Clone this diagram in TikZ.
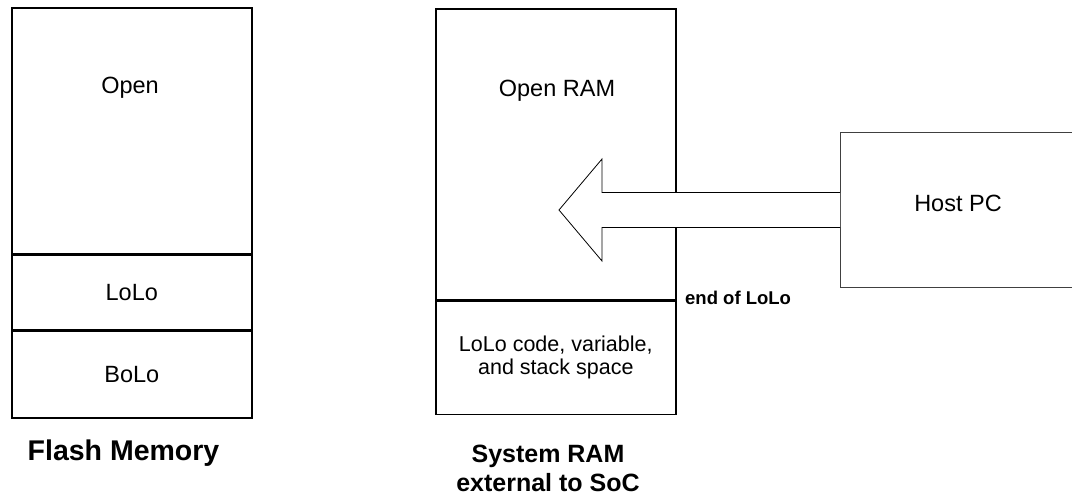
\documentclass[tikz,border=0pt]{standalone}
\usepackage{fontspec}
\setmainfont{Liberation Sans}
\usetikzlibrary{positioning}

\tikzset{
    membox/.style={draw=black, line width=1.6pt, minimum width=240pt, inner sep=0pt},
    memtext/.style={font=\fontsize{23.5}{26}\selectfont, align=center},
    memtitle/.style={font=\fontsize{28.5}{30}\selectfont\bfseries, align=center},
}

\begin{document}
\begin{tikzpicture}[x=1pt, y=-1pt]
    \useasboundingbox (0,0) rectangle (1072,500);

    % flash memory column
    \node[membox, minimum height=246pt, anchor=north west] (flopen) at (11,7) {};
    \node[membox, minimum height=74pt, below=0pt of flopen] (fllolo) {};
    \node[membox, minimum height=87pt, below=0pt of fllolo] (flbolo) {};
    \node[memtext] at (130,88) {Open};
    \node[memtext] at (fllolo) {LoLo};
    \node[memtext] at (flbolo) {BoLo};
    \node[memtitle] (fltitle) at (123.5,453) {Flash Memory};

    % system RAM column
    \node[membox, minimum height=291pt, anchor=north west] (ramopen) at (435,8) {};
    \node[membox, minimum height=113pt, below=0pt of ramopen] (ramlolo) {};
    \node[memtext] at (557,91) {Open RAM};
    \node[memtext, font=\fontsize{21.5}{23}\selectfont] at (ramlolo) {LoLo code, variable,\\and stack space};
    \node[memtitle, font=\fontsize{25}{29}\selectfont\bfseries] (ramtitle) at (548,468) {System RAM\\external to SoC};
    \node[font=\fontsize{18.5}{22}\selectfont\bfseries, anchor=west, inner sep=0pt] (endlolo) at (685,298) {end of LoLo};

    % host and the load arrow
    \node[draw=black!75, line width=1pt, minimum width=260pt, minimum height=155pt, anchor=north west] (host) at (840,132) {};
    \node[memtext] at (958,203) {Host PC};
    \coordinate (tip) at (559,210);
    \draw[fill=white, line width=0.8pt]
        (host.west |- 0,192.5) -- (602,192.5) -- (602,159) -- (tip)
        -- (602,261) -- (602,227.5) -- (host.west |- 0,227.5);
\end{tikzpicture}
\end{document}
